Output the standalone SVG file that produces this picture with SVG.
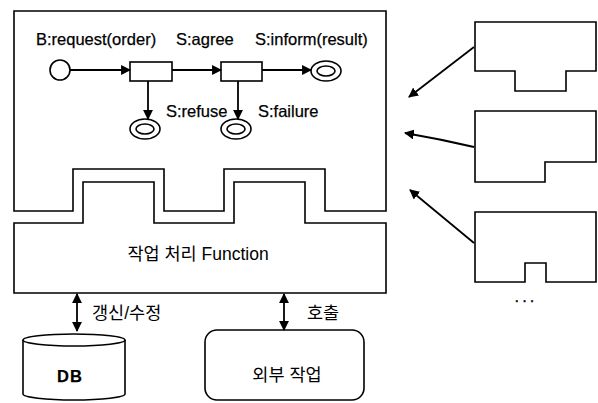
<svg xmlns="http://www.w3.org/2000/svg" width="598" height="403" viewBox="0 0 598 403">
<style>
.ln{fill:none;stroke:#000;stroke-width:1.6}
.sh{fill:#fff;stroke:#000;stroke-width:1.6}
.ar{fill:none;stroke:#000;stroke-width:1.8}
.t{font-family:"Liberation Sans","Noto Sans CJK KR",Arial,sans-serif;font-size:16.5px;fill:#000;stroke:#000;stroke-width:0.25}
.k{font-family:"Liberation Sans","Noto Sans CJK KR",sans-serif;font-size:17.5px;fill:#000}
</style>
<defs>
<marker id="a" viewBox="0 0 10 10" refX="9" refY="5" markerWidth="5.5" markerHeight="5.5" orient="auto-start-reverse" markerUnits="strokeWidth">
<path d="M0,0 L10,5 L0,10 Z" fill="#000"/>
</marker>
</defs>
<g id="protocol-box">
<path class="sh" d="M14,11 H386 V211 H325 V169 H224 V211 H164 V169 H73 V211 H14 Z"/>
<text class="t" x="36" y="45">B:request(order)</text>
<text class="t" x="176" y="45">S:agree</text>
<text class="t" x="255" y="45">S:inform(result)</text>
<text class="t" x="166" y="117">S:refuse</text>
<text class="t" x="258" y="117">S:failure</text>
</g>
<g id="start"><circle class="sh" cx="60" cy="70" r="10"/></g>
<g id="state1"><rect class="sh" x="130" y="62" width="42" height="19"/></g>
<g id="state2"><rect class="sh" x="221" y="62" width="41" height="19"/></g>
<g id="end-inform"><ellipse class="sh" cx="326" cy="71" rx="15" ry="10"/><ellipse class="ln" cx="326" cy="71" rx="9" ry="5"/></g>
<g id="end-refuse"><ellipse class="sh" cx="145" cy="129" rx="15" ry="10"/><ellipse class="ln" cx="145" cy="129" rx="9" ry="5"/></g>
<g id="end-failure"><ellipse class="sh" cx="236" cy="129" rx="15" ry="10"/><ellipse class="ln" cx="236" cy="129" rx="9" ry="5"/></g>
<g id="function-box">
<path class="sh" d="M14,223 H83 V182 H154 V223 H234 V182 H305 V223 H386 V293 H14 Z"/>
<text class="k" x="198" y="260" text-anchor="middle" font-size="19">작업 처리 Function</text>
</g>
<g id="db">
<path class="sh" d="M23,340 V394 A51,6 0 0 0 125,394 V340"/>
<ellipse class="sh" cx="74" cy="340" rx="51" ry="6"/>
<text class="t" x="70" y="382" text-anchor="middle" font-weight="bold" font-size="17" letter-spacing="1">DB</text>
</g>
<g id="external">
<rect class="sh" x="205" y="330" width="159" height="70" rx="12"/>
<text class="k" x="287" y="381" text-anchor="middle">외부 작업</text>
</g>
<g id="shape1"><path class="sh" d="M475,22 H596 V71 H566 V91 H515 V71 H475 Z"/></g>
<g id="shape2"><path class="sh" d="M475,111 H596 V162 H545 V182 H475 Z"/></g>
<g id="shape3"><path class="sh" d="M475,212 H596 V282 H546 V263 H525 V282 H475 Z"/></g>
<text class="t" x="526" y="302" text-anchor="middle" font-size="14" letter-spacing="3">...</text>
<g id="connectors">
<line class="ar" x1="70" y1="70" x2="130" y2="70" marker-end="url(#a)"/>
<line class="ar" x1="172" y1="70" x2="221" y2="70" marker-end="url(#a)"/>
<line class="ar" x1="262" y1="70" x2="311" y2="70" marker-end="url(#a)"/>
<line class="ar" x1="148" y1="81" x2="148" y2="119" marker-end="url(#a)"/>
<line class="ar" x1="238" y1="81" x2="238" y2="119" marker-end="url(#a)"/>
<line class="ar" x1="77" y1="294" x2="77" y2="331" marker-start="url(#a)" marker-end="url(#a)"/>
<line class="ar" x1="284" y1="294" x2="284" y2="330" marker-start="url(#a)" marker-end="url(#a)"/>
<text class="k" x="92" y="319">갱신/수정</text>
<text class="k" x="307" y="319">호출</text>
<line class="ar" x1="474" y1="47" x2="409" y2="97" marker-end="url(#a)"/>
<path class="ar" d="M474,147 Q440,139 405,133" marker-end="url(#a)"/>
<line class="ar" x1="474" y1="243" x2="410" y2="190" marker-end="url(#a)"/>
</g>
</svg>
